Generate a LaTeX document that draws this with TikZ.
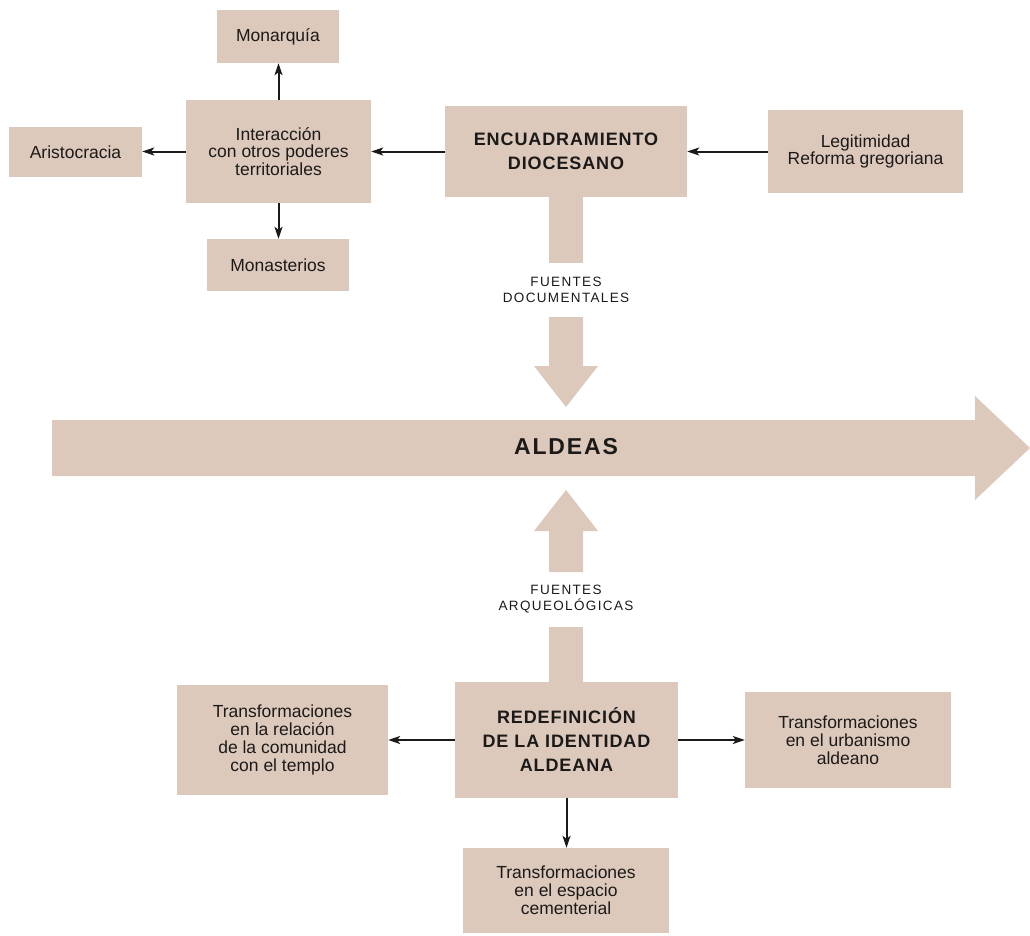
\documentclass[tikz,border=0pt]{standalone}
\usepackage{fontspec}
\setmainfont{Liberation Sans}
\usetikzlibrary{arrows.meta}

\definecolor{beige}{HTML}{DCC9BC}
\definecolor{ink}{HTML}{1C1A19}

\begin{document}
\begin{tikzpicture}[x=1pt, y=-1pt, >={Stealth[length=12pt, width=8pt, inset=3pt]},
	box/.style={fill=beige, text=ink, align=center, inner sep=0pt,
		font=\fontsize{17.5}{17.8}\selectfont},
	title/.style={box, font=\fontsize{18}{24}\selectfont\bfseries\addfontfeatures{LetterSpace=5}},
	fuente/.style={text=ink, align=center, inner sep=0pt,
		font=\fontsize{13.5}{16}\selectfont\addfontfeatures{LetterSpace=10}},
	link/.style={->, draw=ink, line width=2pt}]
	\useasboundingbox (0,0) rectangle (1030,935);

	% Upper block {encuadramiento, interaccion, ...}
	\node [title, minimum width=242, minimum height=91]	(enc)		at (566,151.5)	{ENCUADRAMIENTO\\DIOCESANO};
	\node [box, minimum width=195, minimum height=83]	(legit)		at (865.5,151.5)	{Legitimidad\\Reforma gregoriana};
	\node [box, minimum width=185, minimum height=103]	(inter)		at (278.5,151.5)	{Interacción\\con otros poderes\\territoriales};
	\node [box, minimum width=122, minimum height=53]	(monarquia)	at (278,36.5)	{Monarquía};
	\node [box, minimum width=133, minimum height=50]	(aristo)	at (75.5,152)	{Aristocracia};
	\node [box, minimum width=142, minimum height=52]	(monast)	at (278,265)	{Monasterios};

	% Lower block {redefinicion, transformaciones}
	\node [title, minimum width=223, minimum height=116]	(redef)		at (566.5,740)	{REDEFINICIÓN\\DE LA IDENTIDAD\\ALDEANA};
	\node [box, minimum width=211, minimum height=110]	(templo)	at (282.5,740)	{Transformaciones\\en la relación\\de la comunidad\\con el templo};
	\node [box, minimum width=206, minimum height=96]	(urban)		at (848,740)	{Transformaciones\\en el urbanismo\\aldeano};
	\node [box, minimum width=206, minimum height=85]	(cement)	at (566,890.5)	{Transformaciones\\en el espacio\\cementerial};

	% Big arrows
	\fill [beige] (enc.south -| 549,0) rectangle (583,263);
	\fill [beige] (549,317) -- (583,317) -- (583,366) -- (598,366) -- (566,407) -- (534,366) -- (549,366) -- cycle;
	\node [fuente] (fdoc) at (566,290) {FUENTES\\DOCUMENTALES};

	\fill [beige] (52,420) -- (975,420) -- (975,396) -- (1030,448) -- (975,500) -- (975,476) -- (52,476) -- cycle;
	\node [text=ink, font=\fontsize{23}{23}\selectfont\bfseries\addfontfeatures{LetterSpace=8}] (aldeas) at (566,447) {ALDEAS};

	\fill [beige] (566,490) -- (598,531) -- (583,531) -- (583,572) -- (549,572) -- (549,531) -- (534,531) -- cycle;
	\fill [beige] (549,627) rectangle (583 ,0 |- redef.north);
	\node [fuente] (farq) at (566,599) {FUENTES\\ARQUEOLÓGICAS};

	% Paths
	\draw [link] (legit.west)	-- (legit.west -| enc.east);
	\draw [link] (enc.west)		-- (enc.west -| inter.east);
	\draw [link] (inter.west)	-- (inter.west -| aristo.east);
	\draw [link] (inter.north)	-- (inter.north |- monarquia.south);
	\draw [link] (inter.south)	-- (inter.south |- monast.north);
	\draw [link] (redef.west)	-- (redef.west -| templo.east);
	\draw [link] (redef.east)	-- (redef.east -| urban.west);
	\draw [link] (redef.south)	-- (redef.south |- cement.north);
\end{tikzpicture}
\end{document}
